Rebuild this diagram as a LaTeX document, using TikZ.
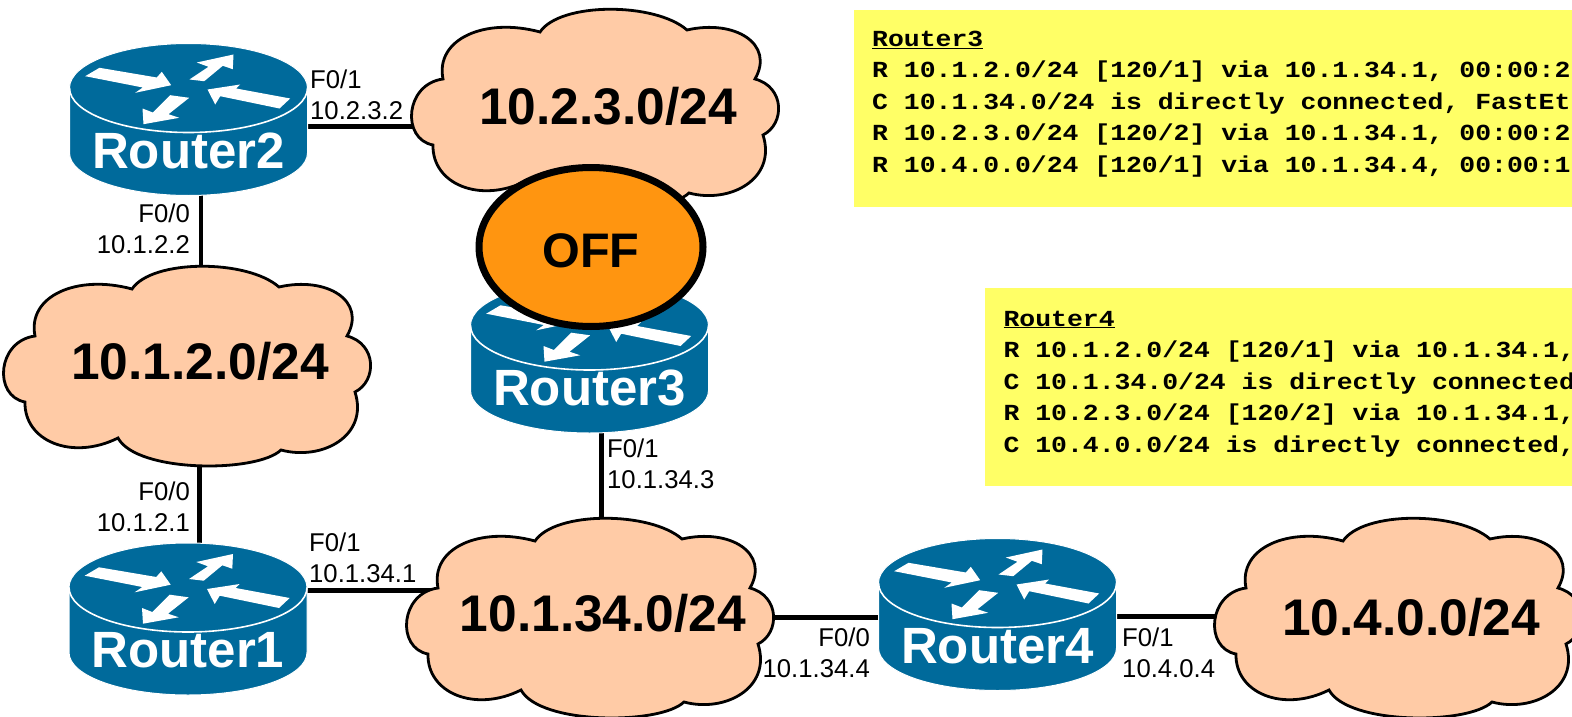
\documentclass[tikz,border=0pt]{standalone}
\usepackage{fontspec}
\setmainfont{Liberation Sans}
\newfontfamily\routefont[FakeStretch=1.15]{Liberation Mono}
\usetikzlibrary{shapes.geometric}
\usetikzlibrary{backgrounds}
\definecolor{routerblue}{HTML}{006A9B}
\definecolor{cloudpeach}{HTML}{FFCBA6}
\definecolor{infoyellow}{HTML}{FFFF66}
\definecolor{offorange}{HTML}{FF9510}
\tikzset{
	routername/.style={
		rectangle, inner sep=0pt, minimum width=241pt, minimum height=153pt,
		text height=97pt, text depth=0pt, text=white,
		font=\fontsize{51}{51}\selectfont\bfseries
	},
	router/.pic={
		\fill[routerblue, draw=white, line width=1pt] (-119,-31.5) -- (-119,33.5)
			arc[start angle=180, end angle=0, x radius=119, y radius=42.5] -- (119,-31.5)
			arc[start angle=0, end angle=-180, x radius=119, y radius=44.5] -- cycle;
		\draw[white, line width=1.6pt] (-119,-31.5) arc[start angle=180, end angle=0, x radius=119, y radius=44.5];
		\fill[white] (-103.3,-43.3) -- (-89,-51.7) -- (-31.7,-42) -- (-26.7,-47.7) -- (-17.3,-34.3) -- (-53.3,-26.7) -- (-45.7,-32) -- cycle;
		\fill[white] (1,-40) -- (20,-52.7) -- (8.3,-57) -- (45,-65) -- (44.3,-50.3) -- (34.3,-53.7) -- (15.7,-38.3) -- cycle;
		\fill[white] (19,-30) -- (51.7,-35) -- (47.7,-31) -- (101.7,-21) -- (91,-11) -- (31.7,-23.3) -- (26.7,-15) -- cycle;
		\fill[white] (-18.3,-24.3) -- (0.7,-21.7) -- (-20,-5.3) -- (-9.3,-1.7) -- (-45,4.7) -- (-46,-11) -- (-35.7,-7) -- cycle;
		\node[routername] (-box) at (0,0) {#1};
	},
	cloudname/.style={
		rectangle, inner sep=0pt, minimum width=370pt, minimum height=200pt,
		font=\fontsize{51.5}{51.5}\selectfont\bfseries,
		execute at begin node={\hspace*{26pt}}
	},
	netcloud/.pic={
		\draw[fill=cloudpeach, line width=2.8pt, shift={(-185,-100)}] (33,70)
			.. controls (25,30) and (75,8) .. (130,23)
			.. controls (150,-7) and (245,-7) .. (277,21)
			.. controls (325,10) and (365,35) .. (345,70)
			.. controls (375,78) and (375,115) .. (353,126)
			.. controls (367,170) and (320,195) .. (279,184)
			.. controls (255,207) and (135,207) .. (116,172)
			.. controls (70,195) and (22,175) .. (23,136)
			.. controls (-9,130) and (-5,75) .. cycle;
		\node[cloudname] (-box) at (0,0) {#1};
	},
	link/.style={line width=4.4pt},
	portlabel/.style={inner sep=0pt, font=\fontsize{25.7}{31}\selectfont},
	portwest/.style={portlabel, anchor=north west, align=left},
	porteast/.style={portlabel, anchor=north east, align=right},
	infobox/.style={rectangle, fill=infoyellow, anchor=north west, inner sep=0pt},
	infotext/.style={inner sep=0pt, anchor=north west, align=left, font=\routefont\bfseries\fontsize{23}{31.5}\selectfont},
	offstate/.style={ellipse, draw, line width=7pt, fill=offorange, inner sep=0pt, minimum width=224pt, minimum height=159pt, text height=40pt, text depth=0pt, font=\fontsize{48.5}{48.5}\selectfont\bfseries}
}
\begin{document}
\begin{tikzpicture}[x=1pt, y=-1pt]
	\useasboundingbox (0,0) rectangle (1572,717);
	\node [infobox, minimum width=718pt, minimum height=197.5pt] (box3) at (854,9.5) {};
	\node [infobox, minimum width=587.5pt, minimum height=198pt] (box4) at (984.5,288) {};
	\node [infotext] (table3) at (872,30.5) {\underline{Router3}\\
		R 10.1.2.0/24 [120/1] via 10.1.34.1, 00:00:2\\
		C 10.1.34.0/24 is directly connected, FastEt\\
		R 10.2.3.0/24 [120/2] via 10.1.34.1, 00:00:2\\
		R 10.4.0.0/24 [120/1] via 10.1.34.4, 00:00:1};
	\node [infotext] (table4) at (1003.4,310.5) {\underline{Router4}\\
		R 10.1.2.0/24 [120/1] via 10.1.34.1,\\
		C 10.1.34.0/24 is directly connected\\
		R 10.2.3.0/24 [120/2] via 10.1.34.1,\\
		C 10.4.0.0/24 is directly connected,};

	\pic [cloudname/.append style={yshift=2.5pt}] (c23) at (595,109) {netcloud={10.2.3.0/24}};
	\pic [cloudname/.append style={yshift=4.5pt}] (c12) at (187,366) {netcloud={10.1.2.0/24}};
	\pic [cloudname/.append style={yshift=4.5pt}] (c134) at (590,618) {netcloud={10.1.34.0/24}};
	\pic [cloudname/.append style={yshift=0.5pt}] (c40) at (1398,618) {netcloud={10.4.0.0/24}};

	\pic (r2) at (188.5,119.5) {router={Router2}};
	\pic (r1) at (188,619) {router={Router1}};
	\pic (r3) at (589.5,357) {router={Router3}};
	\pic (r4) at (997.5,614.5) {router={Router4}};

	\begin{scope}[on background layer]
		\draw [link] ([yshift=-7pt]r2-box.center) -- ([yshift=-7pt]r2-box.center -| c23-box.center);
		\draw [link] ([xshift=12.5pt]r2-box.center) -- ([xshift=12.5pt]r2-box.center |- c12-box.center);
		\draw [link] ([xshift=11.5pt]r1-box.center) -- ([xshift=11.5pt]r1-box.center |- c12-box.center);
		\draw [link] ([yshift=28.5pt]r1-box.center) -- ([yshift=28.5pt]r1-box.center -| c134-box.center);
		\draw [link] ([xshift=12pt]r3-box.center) -- ([xshift=12pt]r3-box.center |- c134-box.center);
		\draw [link] ([yshift=-3pt]r4-box.center) -- ([yshift=-3pt]r4-box.center -| c134-box.center);
		\draw [link] ([yshift=-2pt]r4-box.center) -- ([yshift=-2pt]r4-box.center -| c40-box.center);
	\end{scope}

	\node [portwest] (p2a) at (310,69.5) {F0/1\\10.2.3.2};
	\node [porteast] (p2b) at (190,204) {F0/0\\10.1.2.2};
	\node [porteast] (p1a) at (190,482) {F0/0\\10.1.2.1};
	\node [portwest] (p1b) at (309,533) {F0/1\\10.1.34.1};
	\node [portwest] (p3) at (607,439) {F0/1\\10.1.34.3};
	\node [porteast] (p4a) at (870,627.5) {F0/0\\10.1.34.4};
	\node [portwest] (p4b) at (1122,627.5) {F0/1\\10.4.0.4};

	\node [offstate] (off) at (591,247) {OFF};
\end{tikzpicture}
\end{document}
